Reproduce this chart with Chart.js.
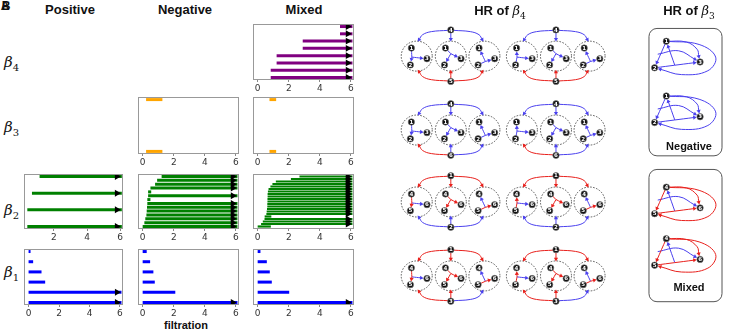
<!DOCTYPE html>
<html>
<head>
<meta charset="utf-8">
<script src="https://cdn.jsdelivr.net/npm/chart.js@4.4.0/dist/chart.umd.min.js"></script>
<style>
  body { margin: 0; background: #fff; }
  #fig { position: relative; width: 730px; height: 334px; overflow: hidden; font-family: "Liberation Sans", Arial, sans-serif; color: #111; }
  #fig canvas { position: absolute; }
  .t { position: absolute; transform: translate(-50%, -50%); white-space: nowrap; font-weight: bold; }
  .m { font-family: "DejaVu Serif", serif; font-style: italic; font-weight: normal; }
  .m sub { font-style: normal; font-size: 70%; }
  .beta { position: absolute; left: 4px; transform: translateY(-50%); font-family: "DejaVu Serif", serif; font-style: italic; font-size: 15px; }
  .beta sub { font-style: normal; font-size: 10px; }
</style>
</head>
<body>
<div id="fig">
  <div class="t" style="left:5px;top:6px;font-size:12px">A</div>
  <div class="t" style="left:6px;top:6px;font-size:12px">B</div>

  <div class="t" style="left:70px;top:9px;font-size:13px">Positive</div>
  <div class="t" style="left:185px;top:9px;font-size:13px">Negative</div>
  <div class="t" style="left:304px;top:9px;font-size:13px">Mixed</div>

  <div class="beta" style="top:63px">β<sub>4</sub></div>
  <div class="beta" style="top:128px">β<sub>3</sub></div>
  <div class="beta" style="top:211px">β<sub>2</sub></div>
  <div class="beta" style="top:273px">β<sub>1</sub></div>

  <div class="t" style="left:186px;top:325px;font-size:11px">filtration</div>

  <div class="t" style="left:500px;top:12px;font-size:13px">HR of <span class="m">β<sub>4</sub></span></div>
  <div class="t" style="left:689px;top:12px;font-size:13px">HR of <span class="m">β<sub>3</sub></span></div>
  <div class="t" style="left:689px;top:146px;font-size:11px">Negative</div>
  <div class="t" style="left:689px;top:287px;font-size:11px">Mixed</div>
</div>

<script>
// barcodes: [birth, death] for each bar, listed top to bottom; null death = persists (arrow)
const INF = null;
const pos_b2 = [[1.14, INF], [0.68, INF], [0.4, INF], [0.4, INF]];
const pos_b1 = [[0, 0.13], [0, 0.3], [0, 0.85], [0, 1.09], [0, INF], [0, INF]];
const neg_b3 = [[0.22, 1.27], [0.22, 1.27]];
const neg_b2 = [[1.22, INF], [0.93, INF], [0.8, INF], [0.5, INF], [0.35, 0.55], [0.35, INF], [0.3, 0.5],
                [0.3, INF], [0.28, INF], [0.26, INF], [0.24, INF], [0.17, INF], [0.11, INF], [0, INF]];
const neg_b1 = [[0, 0.26], [0, 0.48], [0, 0.69], [0, 0.78], [0, 2.1], [0, INF]];
const mix_b4 = [[5.3, INF], [5.3, INF], [2.9, INF], [2.9, INF], [1.22, INF], [1.22, INF], [0.84, INF], [0.84, INF]];
const mix_b3 = [[0.76, 1.19], [0.76, 1.19]];
const mix_b2 = [[2.69, INF], [2.14, INF], [1.17, INF], [0.95, INF], [0.82, INF], [0.7, INF], [0.66, INF],
                [0.64, INF], [0.64, INF], [0.63, INF], [0.63, INF], [0.62, INF], [0.62, INF], [0.6, INF],
                [0.58, INF], [0.56, INF], [0.45, 0.88], [0.44, INF], [0.33, INF], [0.22, INF], [0, 0.85]];
const mix_b1 = [[0, 0.18], [0, 0.59], [0, 0.78], [0, 0.91], [0, 2.03], [0, INF]];
const xTicks = [0, 2, 4, 6];
const infEnd = 6.1, arrowX = 5.8;

// HR of beta4: diagrams row by row, two per row
const hr4Top = ['4', '4', '4', '4', '1', '1', '1', '1'];
const hr4Bottom = ['5', '5', '6', '6', '2', '2', '3', '3'];
const hr4Inner = [['1', '2', '3'], ['1', '2', '3'], ['1', '2', '3'], ['1', '2', '3'],
                  ['4', '5', '6'], ['4', '5', '6'], ['4', '5', '6'], ['4', '5', '6']];
// colours of the arcs [left, centre, right] from the top node and from the bottom node
const hr4TopArcs = ['bbb', 'bbb', 'bbb', 'bbb', 'rrr', 'rrr', 'rrr', 'rrr'];
const hr4BotArcs = ['rrr', 'rrr', 'rbb', 'rbb', 'bbb', 'bbb', 'rrb', 'rrb'];
// hyperedge inside each small circle: [tail, head, head] (0 top-left, 1 bottom-left, 2 right)
const hr4Hyper = [[[0, 1, 2], [0, 2, 1], [1, 2, 0]],   // left column
                  [[1, 0, 2], [0, 2, 1], [1, 2, 0]]];  // right column
const hr4InnerCol = { neg: ['bbb', 'bbb', 'bbb'], mix: ['rrb', 'rrr', 'rrb'] };
const hr4Kind = ['neg', 'neg', 'neg', 'neg', 'mix', 'mix', 'mix', 'mix'];

// HR of beta3: four copies of the same 3-node hypergraph
const hr3Labels = [['1', '2', '3'], ['1', '2', '3'], ['4', '5', '6'], ['4', '5', '6']];
const hr3Colors = ['bbbbbb', 'bbbbbb', 'rrrbrb', 'rrrbrb'];

// ---------- layout / style ----------
const colorOf = { b: '#4a40ee', r: '#e8201c' };
const panels = [
  { bars: pos_b2, color: '#008000', x: 24, y: 172, w: 99, h: 57, xmin: 0.2, xmax: 6.17 },
  { bars: pos_b1, color: '#0000ff', x: 24, y: 247, w: 99, h: 58 },
  { bars: neg_b3, color: '#ffa500', x: 138, y: 97, w: 101, h: 57 },
  { bars: neg_b2, color: '#008000', x: 138, y: 172, w: 101, h: 57 },
  { bars: neg_b1, color: '#0000ff', x: 138, y: 247, w: 101, h: 58 },
  { bars: mix_b4, color: '#800080', x: 253, y: 22, w: 101, h: 58 },
  { bars: mix_b3, color: '#ffa500', x: 253, y: 97, w: 101, h: 57 },
  { bars: mix_b2, color: '#008000', x: 253, y: 172, w: 101, h: 57 },
  { bars: mix_b1, color: '#0000ff', x: 253, y: 247, w: 101, h: 58 }
];
const padL = 8, padR = 8, padT = 2, axisH = 14;
const fig = document.getElementById('fig');

Chart.defaults.font.family = "'DejaVu Sans', sans-serif";

const frame = {
  id: 'frame',
  afterDatasetsDraw(chart) {
    const a = chart.chartArea, ctx = chart.ctx;
    ctx.save();
    ctx.strokeStyle = '#999';
    ctx.lineWidth = 1;
    ctx.strokeRect(a.left + 0.5, a.top + 0.5, a.right - a.left - 1, a.bottom - a.top - 1);
    ctx.restore();
  }
};

panels.forEach(p => {
  const cv = document.createElement('canvas');
  const W = p.w + padL + padR, H = p.h + padT + axisH;
  cv.width = W; cv.height = H;
  cv.style.left = (p.x - padL) + 'px';
  cv.style.top = (p.y - padT) + 'px';
  cv.style.width = W + 'px'; cv.style.height = H + 'px';
  fig.appendChild(cv);

  const n = p.bars.length;
  const m = 0.05 * (n - 1);
  const spacing = p.h / (n - 1 + 2 * m);
  const lw = Math.min(3, spacing * 0.85);

  const datasets = p.bars.map((b, i) => ({
    data: [{ x: b[0], y: n - 1 - i }, { x: b[1] === INF ? infEnd : b[1], y: n - 1 - i }],
    showLine: true,
    borderColor: p.color,
    borderWidth: lw,
    pointRadius: 0,
    order: 1
  }));
  datasets.push({
    data: p.bars.map((b, i) => b[1] === INF ? { x: arrowX, y: n - 1 - i } : null).filter(Boolean),
    pointStyle: 'triangle',
    pointRotation: 90,
    pointRadius: 4,
    pointBackgroundColor: '#000',
    pointBorderWidth: 0,
    order: 0
  });

  new Chart(cv, {
    type: 'scatter',
    data: { datasets },
    options: {
      responsive: false,
      animation: false,
      events: [],
      layout: { padding: { left: padL, right: padR, top: padT, bottom: 0 } },
      plugins: { legend: { display: false }, tooltip: { enabled: false } },
      scales: {
        x: {
          min: p.xmin !== undefined ? p.xmin : -0.3,
          max: p.xmax !== undefined ? p.xmax : 6.2,
          afterBuildTicks: s => { s.ticks = xTicks.filter(v => v >= s.min && v <= s.max).map(v => ({ value: v })); },
          afterFit: s => { s.height = axisH; },
          grid: { drawOnChartArea: false, tickLength: 2, color: '#888' },
          border: { display: false },
          ticks: { font: { size: 9 }, color: '#333', padding: 1, maxRotation: 0 }
        },
        y: { display: false, min: -m, max: n - 1 + m }
      }
    },
    plugins: [frame]
  });
});

// ---------- hypergraph diagrams ----------
const hr4Cols = [448, 556], hr4Rows = [26, 102, 176, 252];
const ringDx = [-35, 0, 34.5], ringDy = 27, botDy = 53, ringR = [15.5, 15];
const innerPos = [[-5.5, -8.3], [-6.5, 9], [10.5, 2.7]];
const hubPos = [[-5, 1], [0, -2.5], [1, 5.5]];
const arcTop = [[[-3, 0.5], [-20, 1.8], [-29, 5], [-34, 12]],
                [[0, 3], [0, 12]],
                [[3, 0.5], [20, 1.8], [29, 5], [33.5, 12]]];
const arcBot = arcTop.map(a => a.map(q => [q[0], botDy - q[1]]));

const hr3Base = [[669.3, 37.7], [657.3, 65], [704, 59]];
const hr3Dy = [0, 56.3, 150, 203];
const hr3Edges = [
  [[669.3, 37.7], [657.3, 65]],
  [[669.3, 37.7], [690, 38.5], [701, 46], [704, 59]],
  [[669.3, 37.7], [703, 41], [720, 54], [712, 68], [685, 72], [657.3, 65]],
  [[660.5, 51], [682, 47.5], [704, 59]],
  [[657.3, 65], [704, 59]],
  [[678, 62.3], [669.3, 37.7]]
];
const hr3Boxes = [[651, 24, 75, 131], [651, 169, 75, 136]];

const ARROW_R = 2.4, NODE_R = 3.2;
const rings = [];
const edgeSets = [];
const nodePts = [], nodeLabs = [];

function edge(pts, color, shorten) {
  const n = pts.length, arrow = shorten !== null;
  const d = pts.map(q => ({ x: q[0], y: q[1] }));
  let rot = 0;
  if (arrow) {
    const a = d[n - 2], b = d[n - 1];
    const dx = b.x - a.x, dy = b.y - a.y, len = Math.hypot(dx, dy);
    const back = shorten + ARROW_R;
    d[n - 1] = { x: b.x - dx / len * back, y: b.y - dy / len * back };
    rot = Math.atan2(dx, -dy) * 180 / Math.PI;
  }
  return {
    data: d, showLine: true, borderColor: color, borderWidth: 1, tension: 0.4,
    pointRadius: d.map((_, i) => arrow && i === n - 1 ? ARROW_R : 0),
    pointStyle: 'triangle', pointRotation: rot,
    pointBackgroundColor: color, pointBorderWidth: 0, order: 1
  };
}
function node(p, lab) { nodePts.push({ x: p[0], y: p[1] }); nodeLabs.push(lab); }

hr4Top.forEach((topLab, g) => {
  const col = g % 2, ox = hr4Cols[col], oy = hr4Rows[Math.floor(g / 2)];
  const P = q => [ox + q[0], oy + q[1]];
  arcTop.forEach((a, k) => edgeSets.push(edge(a.map(P), colorOf[hr4TopArcs[g][k]], 0)));
  arcBot.forEach((a, k) => edgeSets.push(edge(a.map(P), colorOf[hr4BotArcs[g][k]], 0)));
  ringDx.forEach((dx, k) => {
    const cx = ox + dx, cy = oy + ringDy;
    rings.push([cx, cy]);
    const inner = innerPos.map(q => [cx + q[0], cy + q[1]]);
    const hub = [cx + hubPos[k][0], cy + hubPos[k][1]];
    const [t, h1, h2] = hr4Hyper[col][k];
    const c = hr4InnerCol[hr4Kind[g]][k];
    edgeSets.push(edge([inner[t], hub], colorOf[c[0]], null));
    edgeSets.push(edge([hub, inner[h1]], colorOf[c[1]], NODE_R + 0.3));
    edgeSets.push(edge([hub, inner[h2]], colorOf[c[2]], NODE_R + 0.3));
    inner.forEach((q, j) => node(q, hr4Inner[g][j]));
  });
  node([ox, oy], topLab);
  node([ox, oy + botDy], hr4Bottom[g]);
});

hr3Dy.forEach((dy, c) => {
  const P = q => [q[0], q[1] + dy];
  hr3Edges.forEach((e, k) => edgeSets.push(edge(e.map(P), colorOf[hr3Colors[c][k]], NODE_R + 0.3)));
  hr3Base.forEach((q, j) => node(P(q), hr3Labels[c][j]));
});

const hrDecor = {
  id: 'hrDecor',
  beforeDatasetsDraw(chart) {
    const { ctx, scales: { x, y } } = chart;
    ctx.save();
    ctx.strokeStyle = '#555';
    ctx.lineWidth = 1;
    hr3Boxes.forEach(b => {
      const x0 = x.getPixelForValue(b[0]), y0 = y.getPixelForValue(b[1]);
      const x1 = x.getPixelForValue(b[0] + b[2]), y1 = y.getPixelForValue(b[1] + b[3]);
      ctx.beginPath();
      ctx.roundRect(x0 + 0.5, y0 + 0.5, x1 - x0, y1 - y0, 8);
      ctx.stroke();
    });
    ctx.setLineDash([1.6, 1.4]);
    ctx.strokeStyle = '#333';
    ctx.lineWidth = 0.8;
    rings.forEach(r => {
      ctx.beginPath();
      ctx.ellipse(x.getPixelForValue(r[0]), y.getPixelForValue(r[1]), ringR[0], ringR[1], 0, 0, Math.PI * 2);
      ctx.stroke();
    });
    ctx.restore();
  },
  afterDatasetsDraw(chart) {
    const ctx = chart.ctx;
    ctx.save();
    ctx.fillStyle = '#fff';
    ctx.font = "bold 5.5px 'DejaVu Sans'";
    ctx.textAlign = 'center';
    ctx.textBaseline = 'middle';
    chart.data.datasets.forEach((ds, i) => {
      if (!ds.nodeLabels) return;
      chart.getDatasetMeta(i).data.forEach((pt, j) => ctx.fillText(ds.nodeLabels[j], pt.x, pt.y + 0.3));
    });
    ctx.restore();
  }
};

const hc = document.createElement('canvas');
hc.width = 350; hc.height = 334;
hc.style.left = '380px'; hc.style.top = '0px';
hc.style.width = '350px'; hc.style.height = '334px';
fig.insertBefore(hc, fig.firstChild);

new Chart(hc, {
  type: 'scatter',
  data: {
    datasets: [{
      data: nodePts, nodeLabels: nodeLabs,
      pointRadius: NODE_R, pointBackgroundColor: '#111', pointBorderColor: '#777', pointBorderWidth: 0.6,
      order: 0
    }].concat(edgeSets)
  },
  options: {
    responsive: false,
    animation: false,
    events: [],
    layout: { padding: 0 },
    plugins: { legend: { display: false }, tooltip: { enabled: false } },
    scales: {
      x: { display: false, min: 380, max: 730 },
      y: { display: false, min: 0, max: 334, reverse: true }
    }
  },
  plugins: [hrDecor]
});
</script>
</body>
</html>
